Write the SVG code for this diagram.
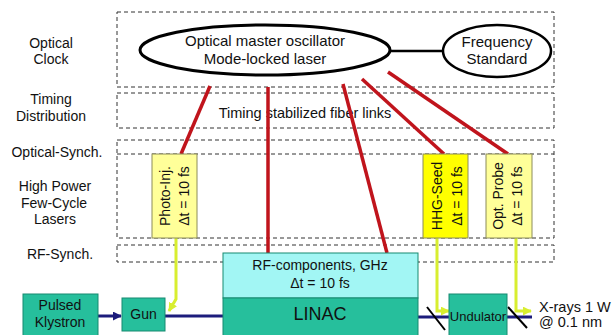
<svg xmlns="http://www.w3.org/2000/svg" width="613" height="335" viewBox="0 0 613 335">
<defs>
<style>
text{font-family:"Liberation Sans",Arial,sans-serif;fill:#111}
.lbl{font-size:14px;text-anchor:middle}
.dash{fill:none;stroke:#333;stroke-width:1;stroke-dasharray:4,3}
.red{stroke:#C0141C;stroke-width:3.5;fill:none}
.yel{stroke:#D8EE30;stroke-width:3;fill:none}
.navy{stroke:#1C1C7C;stroke-width:3;fill:none}
.teal{fill:#26BF9C;stroke:#178A70;stroke-width:1}
.pale{fill:#FFFF99;stroke:#8C8C5A;stroke-width:1}
.bright{fill:#FFFF00;stroke:#8C8C5A;stroke-width:1}
.slash{stroke:#000;stroke-width:2}
</style>
<marker id="ay" viewBox="0 0 10 10" refX="9" refY="5" markerWidth="3" markerHeight="3" orient="auto"><path d="M0,0L10,5L0,10z" fill="#D8EE30"/></marker>
<marker id="an" viewBox="0 0 10 10" refX="9" refY="5" markerWidth="3" markerHeight="3" orient="auto"><path d="M0,0L10,5L0,10z" fill="#1C1C7C"/></marker>
</defs>
<rect width="613" height="335" fill="#fff"/>

<g id="rows">
<rect class="dash" x="117" y="12" width="437" height="75"/>
<rect class="dash" x="117" y="93" width="437" height="35"/>
<rect class="dash" x="117" y="140" width="437" height="98"/>
<line class="dash" x1="117" y1="154" x2="554" y2="154"/>
<rect class="dash" x="117" y="245" width="437" height="17"/>
<text class="lbl" x="51" y="48">Optical</text>
<text class="lbl" x="51" y="64">Clock</text>
<text class="lbl" x="51" y="104">Timing</text>
<text class="lbl" x="51" y="121">Distribution</text>
<text class="lbl" x="57" y="157">Optical-Synch.</text>
<text class="lbl" x="55" y="191">High Power</text>
<text class="lbl" x="54" y="208">Few-Cycle</text>
<text class="lbl" x="55" y="224">Lasers</text>
<text class="lbl" x="60" y="259">RF-Synch.</text>
<text class="lbl" x="305" y="118" style="font-size:14.5px">Timing stabilized fiber links</text>
</g>

<g id="connectors">
<line x1="390" y1="51" x2="443" y2="51" stroke="#000" stroke-width="2.5"/>
<line class="red" x1="210" y1="86" x2="181" y2="154"/>
<line class="red" x1="268" y1="87" x2="268" y2="253"/>
<line class="red" x1="343" y1="84" x2="387" y2="253"/>
<line class="red" x1="362" y1="79" x2="444" y2="154"/>
<line class="red" x1="388" y1="72" x2="508" y2="154"/>
<polyline class="yel" points="176,238 176,299 169,311" marker-end="url(#ay)"/>
<polyline class="yel" points="437,238 437,311 449,311" marker-end="url(#ay)"/>
<polyline class="yel" points="516,238 516,311 531,311" marker-end="url(#ay)"/>
<line class="navy" x1="98" y1="316" x2="121" y2="316" stroke-width="2.5" marker-end="url(#an)"/>
<line class="navy" x1="165" y1="316" x2="223" y2="316"/>
<line class="navy" x1="418" y1="317" x2="449" y2="317"/>
<line class="navy" x1="507" y1="317" x2="532" y2="317"/>
<line class="slash" x1="427" y1="307" x2="445" y2="330"/>
<line class="slash" x1="508" y1="307" x2="527" y2="328"/>
</g>

<g id="oscillator">
<ellipse cx="265" cy="50" rx="125" ry="25" fill="#fff" stroke="#000" stroke-width="3"/>
<text class="lbl" x="265" y="46" style="font-size:15px">Optical master oscillator</text>
<text class="lbl" x="265" y="64" style="font-size:15px">Mode-locked laser</text>
</g>
<g id="frequency-standard">
<ellipse cx="497" cy="51" rx="54" ry="26" fill="#fff" stroke="#000" stroke-width="2.5"/>
<text class="lbl" x="497" y="47" style="font-size:15px">Frequency</text>
<text class="lbl" x="497" y="64" style="font-size:15px">Standard</text>
</g>

<g id="photo-inj">
<rect class="pale" x="152" y="154" width="45" height="84"/>
<text class="lbl" transform="translate(170,196) rotate(-90)">Photo-Inj.</text>
<text class="lbl" transform="translate(189,196) rotate(-90)">Δt = 10 fs</text>
</g>
<g id="hhg-seed">
<rect class="bright" x="423" y="154" width="45" height="84"/>
<text class="lbl" transform="translate(442,196) rotate(-90)">HHG-Seed</text>
<text class="lbl" transform="translate(462,196) rotate(-90)">Δt = 10 fs</text>
</g>
<g id="opt-probe">
<rect class="pale" x="486" y="154" width="46" height="84"/>
<text class="lbl" transform="translate(503,196) rotate(-90)">Opt. Probe</text>
<text class="lbl" transform="translate(522,196) rotate(-90)">Δt = 10 fs</text>
</g>

<g id="rf-components">
<rect x="223" y="253" width="195" height="45" fill="#A2F6F4" stroke="#178A70" stroke-width="1"/>
<text class="lbl" x="320" y="270">RF-components, GHz</text>
<text class="lbl" x="320" y="288">Δt = 10 fs</text>
</g>
<g id="linac">
<rect class="teal" x="223" y="298" width="195" height="42"/>
<text class="lbl" x="320" y="320" style="font-size:18px">LINAC</text>
</g>
<g id="klystron">
<rect class="teal" x="23" y="294" width="75" height="46"/>
<text class="lbl" x="60" y="310">Pulsed</text>
<text class="lbl" x="60" y="327">Klystron</text>
</g>
<g id="gun">
<rect class="teal" x="122" y="298" width="43" height="33"/>
<text class="lbl" x="143.5" y="319">Gun</text>
</g>
<g id="undulator">
<rect class="teal" x="449" y="294" width="58" height="46"/>
<text class="lbl" x="478" y="321" style="font-size:13px">Undulator</text>
</g>
<g id="xrays">
<text x="539" y="312" style="font-size:14.5px">X-rays 1 W</text>
<text x="539" y="327" style="font-size:14.5px">@ 0.1 nm</text>
</g>
</svg>
